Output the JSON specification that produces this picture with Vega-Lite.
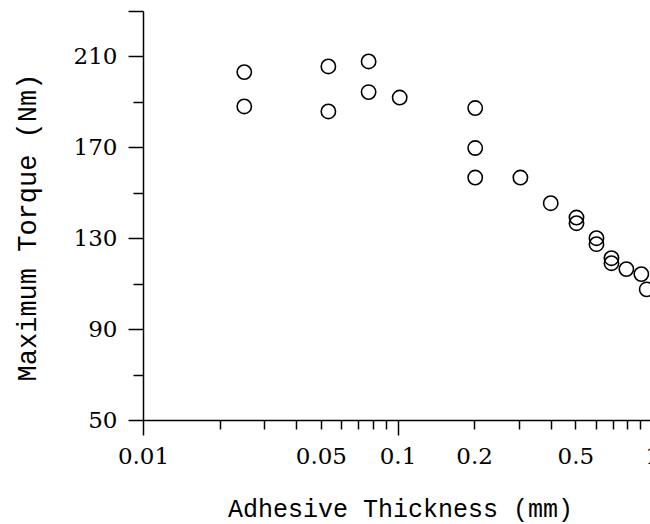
{
  "$schema": "https://vega.github.io/schema/vega-lite/v6.json",
  "autosize": {"type": "none"},
  "width": 507,
  "height": 409,
  "padding": {"left": 143, "top": 11, "right": 0, "bottom": 104},
  "background": "white",
  "data": {
    "values": [
      {"t": 0.025, "m": 203.1},
      {"t": 0.025, "m": 188.0},
      {"t": 0.0535, "m": 205.6},
      {"t": 0.0535, "m": 185.8},
      {"t": 0.077, "m": 207.8},
      {"t": 0.077, "m": 194.3},
      {"t": 0.102, "m": 191.9},
      {"t": 0.202, "m": 187.3},
      {"t": 0.202, "m": 169.7},
      {"t": 0.202, "m": 156.7},
      {"t": 0.304, "m": 156.7},
      {"t": 0.4, "m": 145.4},
      {"t": 0.505, "m": 139.1},
      {"t": 0.505, "m": 136.6},
      {"t": 0.605, "m": 130.0},
      {"t": 0.605, "m": 127.4},
      {"t": 0.693, "m": 121.2},
      {"t": 0.693, "m": 119.0},
      {"t": 0.793, "m": 116.4},
      {"t": 0.908, "m": 114.2},
      {"t": 0.953, "m": 107.5}
    ]
  },
  "layer": [
    {
      "mark": {"type": "point", "shape": "circle", "filled": false, "size": 205, "strokeWidth": 1.6, "color": "#000", "opacity": 1},
      "encoding": {
        "x": {
          "field": "t", "type": "quantitative",
          "scale": {"type": "log", "domain": [0.01, 1], "range": [0, 509], "nice": false, "zero": false},
          "axis": {
            "orient": "bottom",
            "values": [0.01, 0.1, 1],
            "format": "~g",
            "tickSize": 15,
            "labelPadding": 10,
            "title": "Adhesive Thickness (mm)",
            "titleX": 257,
            "titleY": 96,
            "titleAlign": "center",
            "titleBaseline": "alphabetic",
            "titleAngle": 0
          }
        },
        "y": {
          "field": "m", "type": "quantitative",
          "scale": {"domain": [50, 230], "nice": false, "zero": false},
          "axis": {
            "orient": "left",
            "values": [50, 90, 130, 170, 210, 230],
            "labelExpr": "datum.value == 230 ? '' : datum.label",
            "tickSize": 15,
            "labelPadding": 11,
            "title": "Maximum Torque (Nm)",
            "titleFontSize": 27,
            "titleX": -108,
            "titleY": 216,
            "titleAlign": "center",
            "titleBaseline": "alphabetic",
            "titleAngle": 270
          }
        }
      }
    },
    {
      "mark": {"type": "point", "shape": "circle", "opacity": 0},
      "encoding": {
        "x": {
          "field": "t", "type": "quantitative",
          "scale": {"type": "log", "domain": [0.01, 1], "range": [0, 509], "nice": false, "zero": false},
          "axis": {
            "orient": "bottom",
            "values": [0.02, 0.03, 0.04, 0.05, 0.06, 0.07, 0.08, 0.09, 0.2, 0.3, 0.4, 0.5, 0.6, 0.7, 0.8, 0.9],
            "format": "~g",
            "labelExpr": "(datum.label == '0.05' || datum.label == '0.2' || datum.label == '0.5') ? datum.label : ''",
            "tickSize": 9,
            "labelPadding": 16,
            "domain": false,
            "title": null
          }
        },
        "y": {
          "field": "m", "type": "quantitative",
          "scale": {"domain": [50, 230], "nice": false, "zero": false},
          "axis": {
            "orient": "left",
            "values": [70, 110, 150, 190],
            "labels": false,
            "tickSize": 10,
            "domain": false,
            "title": null
          }
        }
      }
    }
  ],
  "resolve": {"axis": {"x": "independent", "y": "independent"}},
  "config": {
    "view": {"stroke": null},
    "axis": {
      "grid": false,
      "domainColor": "#000",
      "domainWidth": 1.5,
      "tickColor": "#000",
      "tickWidth": 1.5,
      "labelColor": "#000",
      "labelFont": "DejaVu Serif",
      "labelFontSize": 23,
      "labelOverlap": false,
      "labelBound": false,
      "labelFlush": false,
      "titleColor": "#000",
      "titleFont": "Liberation Mono",
      "titleFontSize": 25,
      "titleFontWeight": "normal",
      "offset": 0
    }
  }
}
